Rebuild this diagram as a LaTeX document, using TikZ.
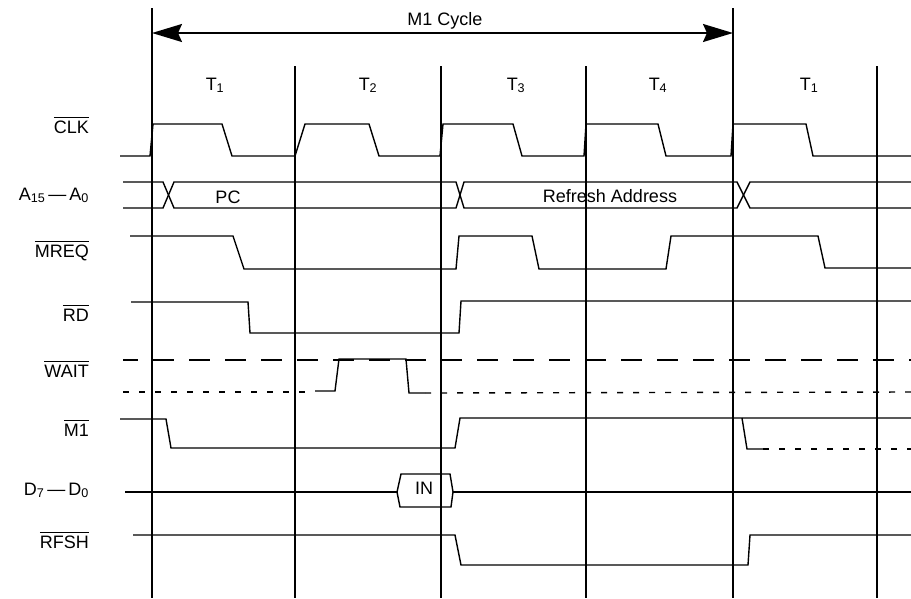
\documentclass[tikz,border=0pt]{standalone}
\usepackage{fontspec}
\setmainfont{Liberation Sans}
\usepackage{tikz}
\usetikzlibrary{arrows.meta}
\newcommand{\negsig}[1]{\setbox0\hbox{#1}\rlap{\rule[\dimexpr\ht0+2.5pt\relax]{\wd0}{1.3pt}}\box0}
\tikzstyle{siglabel} = [anchor=base east, inner sep=0pt]
\tikzstyle{midlabel} = [anchor=base, inner sep=0pt]
\tikzstyle{tline} = [line width=2pt]
\tikzstyle{sigwave} = [line width=1.4pt, line join=miter]
\tikzstyle{longdash} = [sigwave, dash pattern=on 21pt off 15pt, dash phase=6pt]
\tikzstyle{shortdash} = [sigwave, dash pattern=on 6pt off 10pt]

\begin{document}
\begin{tikzpicture}[x=1pt, y=-1pt, every node/.style={font=\fontsize{18}{21}\selectfont}]
		\useasboundingbox (0,0) rectangle (911,598);
		% Time lines
		\draw [tline] (152,8) -- (152,598);
		\draw [tline] (733,8) -- (733,598);
		\foreach \tx in {295,441,586,877}
			\draw [tline] (\tx,66) -- (\tx,598);
		\draw [line width=1.8pt, {Stealth[length=30pt,width=18pt,inset=4pt]}-{Stealth[length=30pt,width=18pt,inset=4pt]}] (152,33) -- (733,33);
		% Place nodes
		\node [midlabel] (cycle) at (445,25) {M1 Cycle};
		\foreach \tx/\tn/\tname in {215/1/ta,368/2/tb,516/3/tc,658/4/td,809/1/te}
			\node [midlabel] (\tname) at (\tx,90) {T\textsubscript{\tn}};
		\node [siglabel] (clk) at (89,133) {\negsig{CLK}};
		\node [siglabel] (addr) at (89,200) {A\textsubscript{15}\,---\,A\textsubscript{0}};
		\node [siglabel] (mreq) at (89,257) {\negsig{MREQ}};
		\node [siglabel] (rd) at (89,321) {\negsig{RD}};
		\node [siglabel] (wait) at (89,377) {\negsig{WAIT}};
		\node [siglabel] (mone) at (89,436) {\negsig{M1}};
		\node [siglabel] (data) at (89,495) {D\textsubscript{7}\,---\,D\textsubscript{0}};
		\node [siglabel] (rfsh) at (89,548) {\negsig{RFSH}};
		\node [midlabel] (pc) at (228,203) {PC};
		\node [midlabel] (refresh) at (610,202) {Refresh Address};
		\node [midlabel] (in) at (424,494) {IN};
		% Draw waves
		\draw [sigwave] (120,156) -- (150,156) -- (153,124) -- (222,124) -- (232,156) -- (295,156) -- (305,124) -- (369,124) -- (379,156) -- (440,156) -- (443,124) -- (513,124) -- (522,156) -- (584,156) -- (586,124) -- (658,124) -- (666,156) -- (731,156) -- (733,124) -- (806,124) -- (813,156) -- (911,156);
		\draw [sigwave] (123,182) -- (163,182) -- (174,208) -- (456,208) -- (464,182) -- (737,182) -- (750,208) -- (911,208);
		\draw [sigwave] (123,208) -- (163,208) -- (174,182) -- (456,182) -- (464,208) -- (737,208) -- (750,182) -- (911,182);
		\draw [sigwave] (130,236) -- (233,236) -- (244,269) -- (456,269) -- (459,236) -- (532,236) -- (539,269) -- (666,269) -- (671,236) -- (818,236) -- (825,268) -- (911,268);
		\draw [sigwave] (131,302) -- (248,302) -- (250,333) -- (459,333) -- (461,301) -- (911,301);
		\draw [longdash] (123,360) -- (911,360);
		\draw [shortdash] (123,392) -- (315,392);
		\draw [sigwave] (315,391) -- (335,391) -- (339,359) -- (406,359) -- (409,393) -- (425,393);
		\draw [shortdash] (425,393) -- (911,392);
		\draw [sigwave] (120,419) -- (166,419) -- (171,448) -- (455,448) -- (460,418) -- (911,418);
		\draw [sigwave] (742,418) -- (747,449) -- (763,449);
		\draw [shortdash] (763,449) -- (911,449);
		\draw [sigwave] (125,492) -- (397,492);
		\draw [sigwave] (397,492) -- (401,474) -- (450,474) -- (453,492) -- (451,507) -- (400,507) -- cycle;
		\draw [sigwave] (453,492) -- (911,492);
		\draw [sigwave] (133,535) -- (455,535) -- (461,565) -- (748,565) -- (750,535) -- (911,535);
	\end{tikzpicture}
\end{document}
